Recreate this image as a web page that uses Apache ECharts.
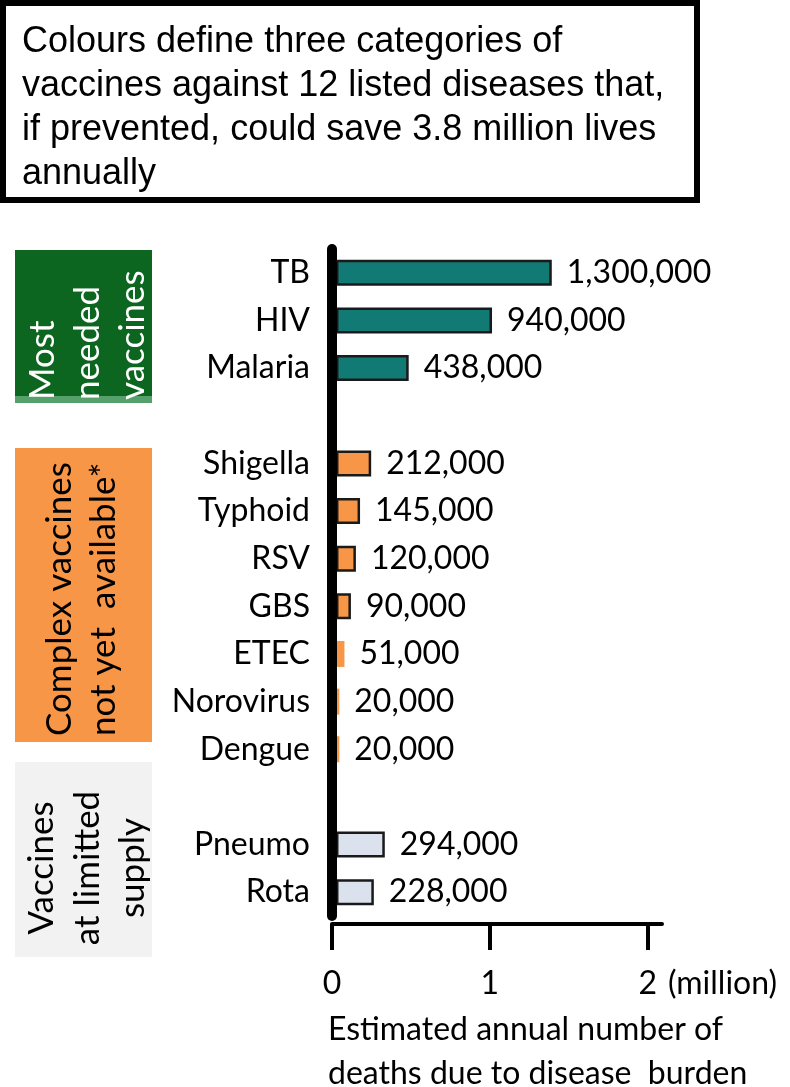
<!DOCTYPE html>
<html>
<head>
<meta charset="utf-8">
<script src="https://cdn.jsdelivr.net/npm/echarts@6/dist/echarts.min.js"></script>
<style>
  html, body { margin: 0; padding: 0; background: #fff; }
  #main { width: 790px; height: 1087px; }
</style>
</head>
<body>
<div id="main"></div>
<script>
// three vaccine groups, deaths per year
const mostNeeded = ['TB', 'HIV', 'Malaria']
const mostNeededDeaths = [1300000, 940000, 438000]
const complexVaccines = ['Shigella', 'Typhoid', 'RSV', 'GBS', 'ETEC', 'Norovirus', 'Dengue']
const complexDeaths = [212000, 145000, 120000, 90000, 51000, 20000, 20000]
const limitedSupply = ['Pneumo', 'Rota']
const limitedDeaths = [294000, 228000]
const xTicks = [0, 1000000, 2000000]

const titleLines = [
  'Colours define three categories of',
  'vaccines against 12 listed diseases that,',
  'if prevented, could save 3.8 million lives',
  'annually'
]

// category list with blank spacer rows between the groups
const categories = [...mostNeeded, ' ', ...complexVaccines, '  ', ...limitedSupply]
const blank = () => '-'

function groupData(values, offset) {
  const out = categories.map(blank)
  values.forEach((v, i) => {
    out[offset + i] = v < 60000
      ? { value: v, itemStyle: { borderWidth: 0 } }
      : v
  })
  return out
}

const labelFont = { fontFamily: 'Lato', fontSize: 32, color: '#000' }

// bars sit on their own (hidden) axis: in the original they start just
// right of the thick axis line and run a little longer than the ticks say
function barSeries(values, offset, color) {
  return {
    type: 'bar',
    xAxisIndex: 1,
    data: groupData(values, offset),
    barWidth: 26,
    barGap: '-100%',
    itemStyle: { color: color, borderColor: '#1a1a1a', borderWidth: 2.5 },
    label: {
      show: true,
      position: 'right',
      distance: 15,
      ...labelFont,
      formatter: p => p.value.toLocaleString('en-US')
    }
  }
}

function sideText(lines, xs, y, align, fill) {
  return lines.map((t, i) => ({
    type: 'text',
    x: xs[i],
    y: y,
    rotation: Math.PI / 2,
    z: 20,
    style: {
      text: t,
      fontFamily: 'Lato',
      fontSize: 35,
      fill: fill,
      textAlign: align,
      textVerticalAlign: 'middle'
    }
  }))
}

const chart = echarts.init(document.getElementById('main'))
chart.setOption({
  animation: false,
  backgroundColor: '#fff',
  grid: { left: 332, top: 249, width: 330, height: 667, outerBoundsMode: 'none' },
  xAxis: [
    {
      type: 'value',
      min: 0,
      max: 2090000,
      interval: 1000000,
      offset: 8,
      splitLine: { show: false },
      axisLine: { show: true, lineStyle: { color: '#000', width: 4 } },
      axisTick: { show: true, length: 26, customValues: xTicks, lineStyle: { color: '#000', width: 4 } },
      axisLabel: { ...labelFont, margin: 44, customValues: xTicks, formatter: v => String(v / 1000000) }
    },
    {
      type: 'value',
      min: -24000,
      max: 1964000,
      show: false,
      splitLine: { show: false }
    }
  ],
  yAxis: {
    type: 'category',
    inverse: true,
    data: categories,
    z: 10,
    axisLine: { show: true, lineStyle: { color: '#000', width: 10 } },
    axisTick: { show: false },
    axisLabel: { ...labelFont, margin: 22 }
  },
  series: [
    barSeries(mostNeededDeaths, 0, '#127a74'),
    barSeries(complexDeaths, mostNeeded.length + 1, '#f79646'),
    barSeries(limitedDeaths, mostNeeded.length + complexVaccines.length + 2, '#dbe2ed')
  ],
  graphic: [
    // title box
    {
      type: 'rect',
      shape: { x: 3, y: 3, width: 694, height: 197 },
      style: { fill: '#fff', stroke: '#000', lineWidth: 6 }
    },
    ...titleLines.map((t, i) => ({
      type: 'text',
      x: 22,
      y: 42 + i * 44,
      style: {
        text: t,
        fontFamily: 'Liberation Sans',
        fontSize: 36,
        fill: '#000',
        textAlign: 'left',
        textVerticalAlign: 'middle'
      }
    })),
    // group boxes on the left
    { type: 'rect', shape: { x: 15, y: 250, width: 137, height: 146 }, style: { fill: '#0d6620' } },
    { type: 'rect', shape: { x: 15, y: 396, width: 137, height: 7 }, style: { fill: '#56a06c' } },
    { type: 'rect', shape: { x: 15, y: 448, width: 137, height: 294 }, style: { fill: '#f79646' } },
    { type: 'rect', shape: { x: 15, y: 762, width: 137, height: 195 }, style: { fill: '#f2f2f2' } },
    ...sideText(['Most', 'needed', 'vaccines'], [43, 88, 133], 400, 'left', '#fff'),
    ...sideText(['Complex vaccines', 'not yet  available*'], [60, 104], 736, 'left', '#000'),
    ...sideText(['Vaccines', 'at limitted', 'supply'], [42, 88, 133], 868, 'center', '#000'),
    // axis unit and title
    {
      type: 'text', x: 668, y: 984,
      style: { text: '(million)', fontFamily: 'Lato', fontSize: 32, fill: '#000', textVerticalAlign: 'middle' }
    },
    {
      type: 'text', x: 328, y: 1030,
      style: { text: 'Estimated annual number of', fontFamily: 'Lato', fontSize: 32, fill: '#000', textVerticalAlign: 'middle' }
    },
    {
      type: 'text', x: 328, y: 1074,
      style: { text: 'deaths due to disease  burden', fontFamily: 'Lato', fontSize: 32, fill: '#000', textVerticalAlign: 'middle' }
    }
  ]
})
</script>
</body>
</html>
